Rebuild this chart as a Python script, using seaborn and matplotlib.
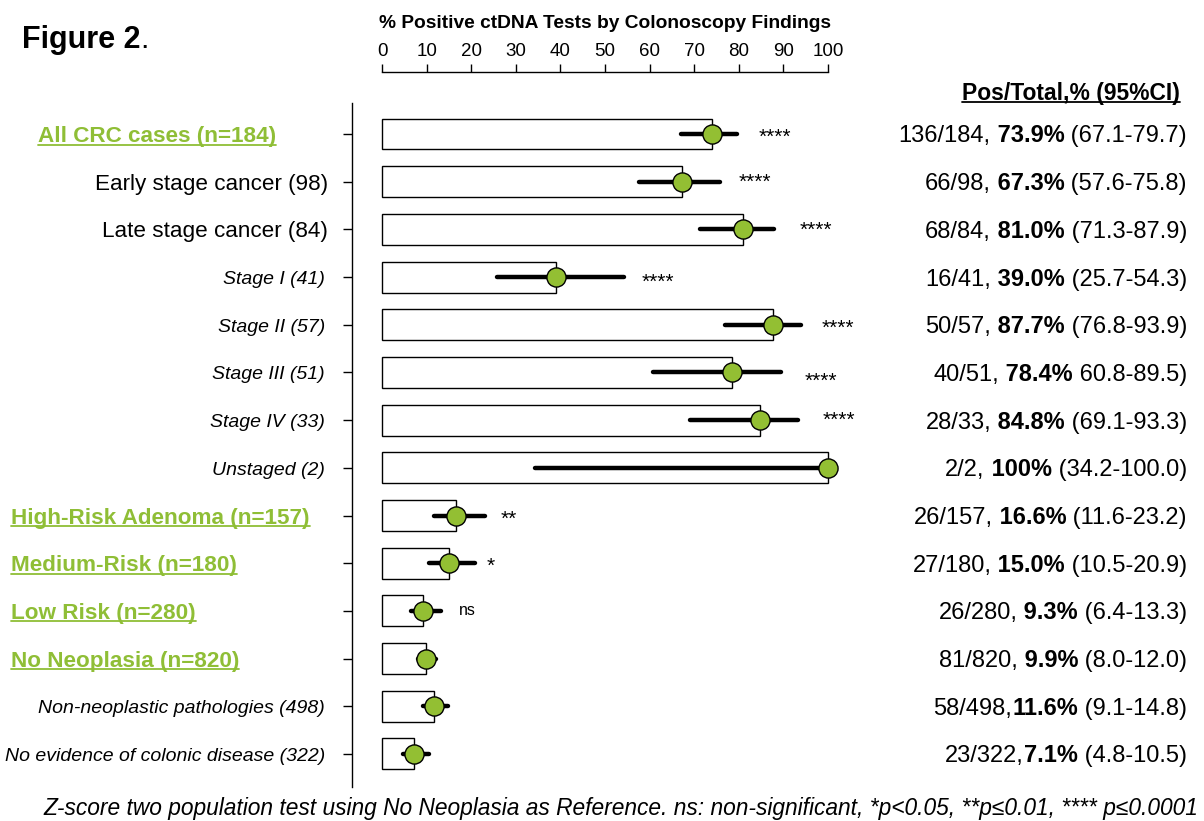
import pandas as pd
import matplotlib.pyplot as plt
import matplotlib.transforms as mtransforms
from matplotlib.lines import Line2D
import seaborn as sns

# data
labels = ['All CRC cases (n=184)', 'Early stage cancer (98)', 'Late stage cancer (84)',
          'Stage I (41)', 'Stage II (57)', 'Stage III (51)', 'Stage IV (33)', 'Unstaged (2)',
          'High-Risk Adenoma (n=157)', 'Medium-Risk (n=180)', 'Low Risk (n=280)',
          'No Neoplasia (n=820)', 'Non-neoplastic pathologies (498)',
          'No evidence of colonic disease (322)']
kinds = ['group', 'sub', 'sub', 'detail', 'detail', 'detail', 'detail', 'detail',
         'group', 'group', 'group', 'group', 'detail', 'detail']
pct = [73.9, 67.3, 81.0, 39.0, 87.7, 78.4, 84.8, 100.0, 16.6, 15.0, 9.3, 9.9, 11.6, 7.1]
ci_lo = [67.1, 57.6, 71.3, 25.7, 76.8, 60.8, 69.1, 34.2, 11.6, 10.5, 6.4, 8.0, 9.1, 4.8]
ci_hi = [79.7, 75.8, 87.9, 54.3, 93.9, 89.5, 93.3, 100.0, 23.2, 20.9, 13.3, 12.0, 14.8, 10.5]
counts = ['136/184, ', '66/98, ', '68/84, ', '16/41, ', '50/57, ', '40/51, ', '28/33, ', '2/2, ',
          '26/157, ', '27/180, ', '26/280, ', '81/820, ', '58/498,', '23/322,']
pct_text = ['73.9%', '67.3%', '81.0%', '39.0%', '87.7%', '78.4%', '84.8%', '100%',
            '16.6%', '15.0%', '9.3%', '9.9%', '11.6%', '7.1%']
ci_text = ['(67.1-79.7)', '(57.6-75.8)', '(71.3-87.9)', '(25.7-54.3)', '(76.8-93.9)',
           '60.8-89.5)', '(69.1-93.3)', '(34.2-100.0)', '(11.6-23.2)', '(10.5-20.9)',
           '(6.4-13.3)', '(8.0-12.0)', '(9.1-14.8)', '(4.8-10.5)']
signif = ['****', '****', '****', '****', '****', '****', '****', '',
          '**', '*', 'ns', '', '', '']

# layout (pixels)
sig_nudge = [(21, 0), (19, 3), (26, 3), (17, -2), (21, 0), (23, -5), (25, 3), (0, 0),
             (15, 0), (11, 1), (18, 0), (0, 0), (0, 0), (0, 0)]
green = '#8fbe36'
W, H = 1204, 821
x0_px, px_per = 382, 4.46
ax_left_px, ax_top_px, ax_bot_px = 352, 103, 787
row0_px, row_step = 134, 47.69
xmax = 110
xmin = (ax_left_px - x0_px) / px_per

sns.set_style('white')
plt.rcParams['font.family'] = ['Liberation Sans', 'DejaVu Sans']
plt.rcParams.update({'text.color': 'black', 'xtick.color': 'black', 'ytick.color': 'black',
                     'axes.edgecolor': 'black', 'axes.labelcolor': 'black'})

fig = plt.figure(figsize=(W / 100, H / 100), dpi=100)
ax = fig.add_axes([ax_left_px / W, 1 - ax_bot_px / H,
                   (xmax - xmin) * px_per / W, (ax_bot_px - ax_top_px) / H])

df = pd.DataFrame({'label': labels, 'pct': pct, 'lo': ci_lo, 'hi': ci_hi})
df['row'] = range(len(df))

sns.barplot(data=df, x='pct', y='label', order=labels, orient='h', color='white',
            edgecolor='black', linewidth=1, width=0.65, errorbar=None, ax=ax)
ax.hlines(df['row'], df['lo'], df['hi'], color='black', lw=3.2, zorder=3,
          capstyle='round', clip_on=False)
sns.scatterplot(data=df, x='pct', y='row', s=190, color='#93bf33', edgecolor='black',
                linewidth=1, zorder=4, legend=False, clip_on=False, ax=ax)

ax.set_xlim(xmin, xmax)
ax.set_ylim((ax_bot_px - row0_px) / row_step, (ax_top_px - row0_px) / row_step)
ax.set_xlabel('')
ax.set_ylabel('')

for s in ['right', 'bottom']:
    ax.spines[s].set_visible(False)
ax.spines['top'].set_position(('outward', 31 * 0.72))
ax.spines['top'].set_bounds(0, 100)
for s in ['top', 'left']:
    ax.spines[s].set_linewidth(1)
    ax.spines[s].set_color('black')
ax.xaxis.tick_top()
ax.set_xticks(range(0, 101, 10))
ax.tick_params(axis='x', direction='out', length=5.8, width=1, pad=3, labelsize=13.5,
               colors='black')
ax.set_yticks(range(len(labels)))
ax.set_yticklabels([])
ax.tick_params(axis='y', direction='out', length=6.5, width=1, left=True, colors='black')

# significance marks
for i, s in enumerate(signif):
    if not s:
        continue
    size = 15 if '*' in s else 11.5
    rise = (0.44 if '*' in s else 0.26) * size * 100 / 72
    dx, dy = sig_nudge[i]
    ax.annotate(s, xy=(ci_hi[i], i), xytext=(dx, dy - rise), textcoords='offset pixels',
                ha='left', va='baseline', fontsize=size, annotation_clip=False)

row_tr = mtransforms.blended_transform_factory(fig.transFigure, ax.transData)
renderer = fig.canvas.get_renderer()


def place(xpx, row, s, size, ha, **kw):
    tr = mtransforms.offset_copy(row_tr, fig=fig, y=-0.358 * size, units='points')
    return fig.text(xpx / W, row, s, transform=tr, ha=ha, va='baseline', fontsize=size, **kw)


def underline(t, color):
    bb = t.get_window_extent(renderer)
    base = t.get_transform().transform(t.get_position())[1] - 2.5
    fig.add_artist(Line2D([bb.x0 / W, bb.x1 / W], [base / H, base / H],
                          transform=fig.transFigure, color=color, lw=1.3))


# row labels
for i, (lab, kind) in enumerate(zip(labels, kinds)):
    if kind == 'group':
        t = place(38 if i == 0 else 11, i, lab, 16.2, 'left', color=green, weight='bold')
        underline(t, green)
    elif kind == 'sub':
        place(328, i, lab, 16.2, 'right')
    else:
        place(325, i, lab, 14, 'right', style='italic')

# right-hand column, drawn right to left
for i in range(len(labels)):
    c = counts[i]
    parts = [(c.rstrip(), 'normal'),
             ((' ' if c.endswith(' ') else '') + pct_text[i], 'bold'),
             (' ' + ci_text[i], 'normal')]
    x = 1187
    for txt, wt in reversed(parts):
        t = place(x, i, txt, 17, 'right', weight=wt)
        x -= t.get_window_extent(renderer).width

hdr = fig.text(1180 / W, 1 - 100 / H, 'Pos/Total,% (95%CI)', ha='right', va='baseline',
               fontsize=16.5, weight='bold')
underline(hdr, 'black')

# titles
fig.text((x0_px + 50 * px_per) / W, 1 - 23 / H, '% Positive ctDNA Tests by Colonoscopy Findings',
         ha='center', va='center', fontsize=13.8, weight='bold')
f2 = fig.text(22 / W, 1 - 40 / H, 'Figure 2', ha='left', va='center', fontsize=22, weight='bold')
bb = f2.get_window_extent(renderer)
fig.text(bb.x1 / W, 1 - 40 / H, '.', ha='left', va='center', fontsize=22)

note = ('Z-score two population test using No Neoplasia as Reference. ns: non-significant, '
        '*p<0.05, **p\u22640.01, **** p\u22640.0001')
ft = fig.text(43 / W, 1 - 808 / H, note, ha='left', va='center', fontsize=15, style='italic',
              family=['Liberation Sans Narrow', 'Liberation Sans', 'DejaVu Sans'])
w = ft.get_window_extent(renderer).width
ft.set_fontsize(15 * 1157 / w)

fig.savefig('out.png', dpi=100)
